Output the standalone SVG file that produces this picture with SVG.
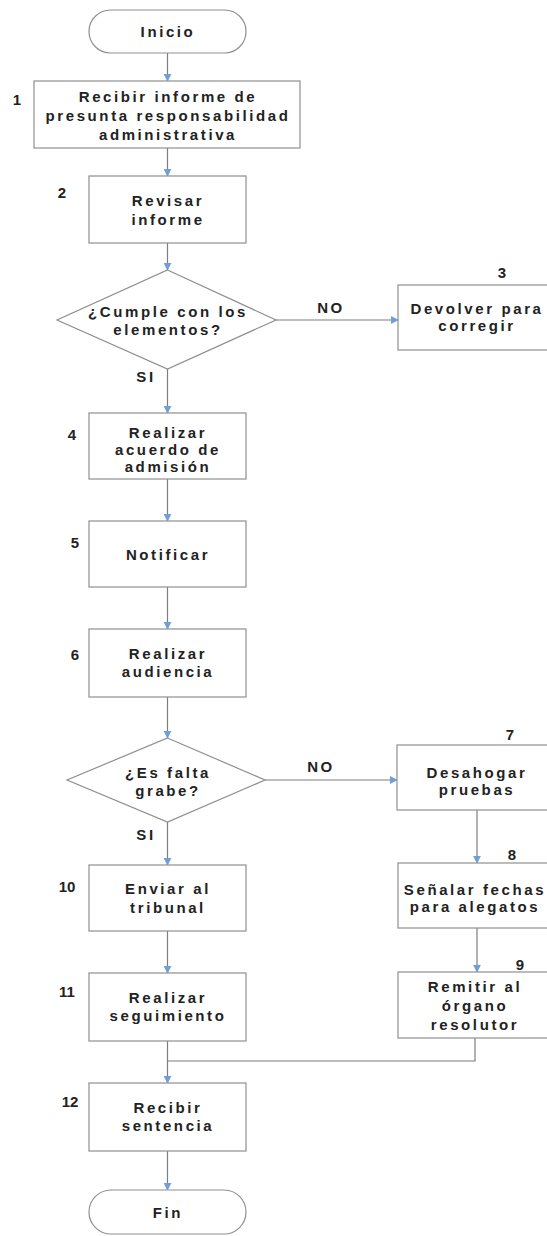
<svg xmlns="http://www.w3.org/2000/svg" width="547" height="1236" viewBox="0 0 547 1236">
<style>
.box{fill:#fff;stroke:#8f8f8f;stroke-width:1.2}
.t{font-family:"Liberation Sans",Arial,sans-serif;font-weight:bold;font-size:15px;letter-spacing:2.6px;fill:#222;text-anchor:middle}
.n{font-family:"Liberation Sans",Arial,sans-serif;font-weight:bold;font-size:15px;fill:#222;text-anchor:middle}
.c{fill:none;stroke:#7d7d7d;stroke-width:1.2}
</style>
<defs>
<marker id="ah" viewBox="0 0 10 10" refX="9" refY="5" markerWidth="8" markerHeight="8" orient="auto" markerUnits="userSpaceOnUse">
<path d="M0,0 L10,5 L0,10 z" fill="#6f9fd6"/>
</marker>
</defs>
<rect width="547" height="1236" fill="#fff"/>
<g id="connectors">
<line class="c" x1="167.5" y1="53" x2="167.5" y2="81" marker-end="url(#ah)"/>
<line class="c" x1="167.5" y1="148" x2="167.5" y2="176" marker-end="url(#ah)"/>
<line class="c" x1="167.5" y1="243" x2="167.5" y2="270" marker-end="url(#ah)"/>
<line class="c" x1="276" y1="320" x2="398" y2="320" marker-end="url(#ah)"/>
<line class="c" x1="167.5" y1="369" x2="167.5" y2="413" marker-end="url(#ah)"/>
<line class="c" x1="167.5" y1="479" x2="167.5" y2="521" marker-end="url(#ah)"/>
<line class="c" x1="167.5" y1="587" x2="167.5" y2="629" marker-end="url(#ah)"/>
<line class="c" x1="167.5" y1="697" x2="167.5" y2="738" marker-end="url(#ah)"/>
<line class="c" x1="265" y1="780" x2="397" y2="780" marker-end="url(#ah)"/>
<line class="c" x1="167.5" y1="822" x2="167.5" y2="865" marker-end="url(#ah)"/>
<line class="c" x1="477" y1="810" x2="477" y2="863" marker-end="url(#ah)"/>
<line class="c" x1="477" y1="928" x2="477" y2="972" marker-end="url(#ah)"/>
<line class="c" x1="167.5" y1="931" x2="167.5" y2="973" marker-end="url(#ah)"/>
<line class="c" x1="167.5" y1="1041" x2="167.5" y2="1083" marker-end="url(#ah)"/>
<polyline class="c" points="475,1038 475,1061 167.5,1061"/>
<line class="c" x1="167.5" y1="1151" x2="167.5" y2="1190" marker-end="url(#ah)"/>
<text class="t" x="146" y="382">SI</text>
<text class="t" x="146" y="840">SI</text>
<text class="t" x="331" y="313">NO</text>
<text class="t" x="321" y="772">NO</text>
</g>
<g id="inicio">
<rect class="box" x="89" y="10" width="157" height="43" rx="21.5"/>
<text class="t" x="168" y="37">Inicio</text>
</g>
<g id="n1">
<rect class="box" x="34" y="81" width="266" height="67"/>
<text class="n" x="17" y="105">1</text>
<text class="t" x="168" y="102">Recibir informe de</text>
<text class="t" x="168" y="121">presunta responsabilidad</text>
<text class="t" x="168" y="140">administrativa</text>
</g>
<g id="n2">
<rect class="box" x="89" y="176" width="157" height="67"/>
<text class="n" x="62" y="198">2</text>
<text class="t" x="168" y="206">Revisar</text>
<text class="t" x="168" y="225">informe</text>
</g>
<g id="d1">
<polygon class="box" points="167.5,270 276,320 167.5,369 57,320"/>
<text class="t" x="168" y="317">¿Cumple con los</text>
<text class="t" x="168" y="335">elementos?</text>
</g>
<g id="n3">
<rect class="box" x="398" y="285" width="157" height="65"/>
<text class="n" x="502" y="278">3</text>
<text class="t" x="477" y="314">Devolver para</text>
<text class="t" x="477" y="331">corregir</text>
</g>
<g id="n4">
<rect class="box" x="89" y="413" width="157" height="66"/>
<text class="n" x="72" y="440">4</text>
<text class="t" x="168" y="438">Realizar</text>
<text class="t" x="168" y="455">acuerdo de</text>
<text class="t" x="168" y="472">admisión</text>
</g>
<g id="n5">
<rect class="box" x="89" y="521" width="157" height="66"/>
<text class="n" x="75" y="548">5</text>
<text class="t" x="168" y="560">Notificar</text>
</g>
<g id="n6">
<rect class="box" x="89" y="629" width="157" height="68"/>
<text class="n" x="75" y="660">6</text>
<text class="t" x="168" y="659">Realizar</text>
<text class="t" x="168" y="677">audiencia</text>
</g>
<g id="d2">
<polygon class="box" points="167.5,738 265,780 167.5,822 67,780"/>
<text class="t" x="168" y="778">¿Es falta</text>
<text class="t" x="168" y="796">grabe?</text>
</g>
<g id="n7">
<rect class="box" x="397" y="745" width="158" height="65"/>
<text class="n" x="510" y="740">7</text>
<text class="t" x="477" y="778">Desahogar</text>
<text class="t" x="477" y="795">pruebas</text>
</g>
<g id="n8">
<rect class="box" x="398" y="863" width="157" height="65"/>
<text class="n" x="512" y="860">8</text>
<text class="t" x="475" y="895">Señalar fechas</text>
<text class="t" x="475" y="912">para alegatos</text>
</g>
<g id="n9">
<rect class="box" x="398" y="972" width="157" height="66"/>
<text class="n" x="520" y="970">9</text>
<text class="t" x="475" y="992">Remitir al</text>
<text class="t" x="475" y="1011">órgano</text>
<text class="t" x="475" y="1030">resolutor</text>
</g>
<g id="n10">
<rect class="box" x="89" y="865" width="157" height="66"/>
<text class="n" x="67" y="892">10</text>
<text class="t" x="168" y="894">Enviar al</text>
<text class="t" x="168" y="913">tribunal</text>
</g>
<g id="n11">
<rect class="box" x="89" y="973" width="157" height="68"/>
<text class="n" x="67" y="997">11</text>
<text class="t" x="168" y="1003">Realizar</text>
<text class="t" x="168" y="1021">seguimiento</text>
</g>
<g id="n12">
<rect class="box" x="89" y="1083" width="157" height="68"/>
<text class="n" x="70" y="1107">12</text>
<text class="t" x="168" y="1113">Recibir</text>
<text class="t" x="168" y="1131">sentencia</text>
</g>
<g id="fin">
<rect class="box" x="89" y="1190" width="157" height="44" rx="22"/>
<text class="t" x="168" y="1218">Fin</text>
</g>
</svg>
